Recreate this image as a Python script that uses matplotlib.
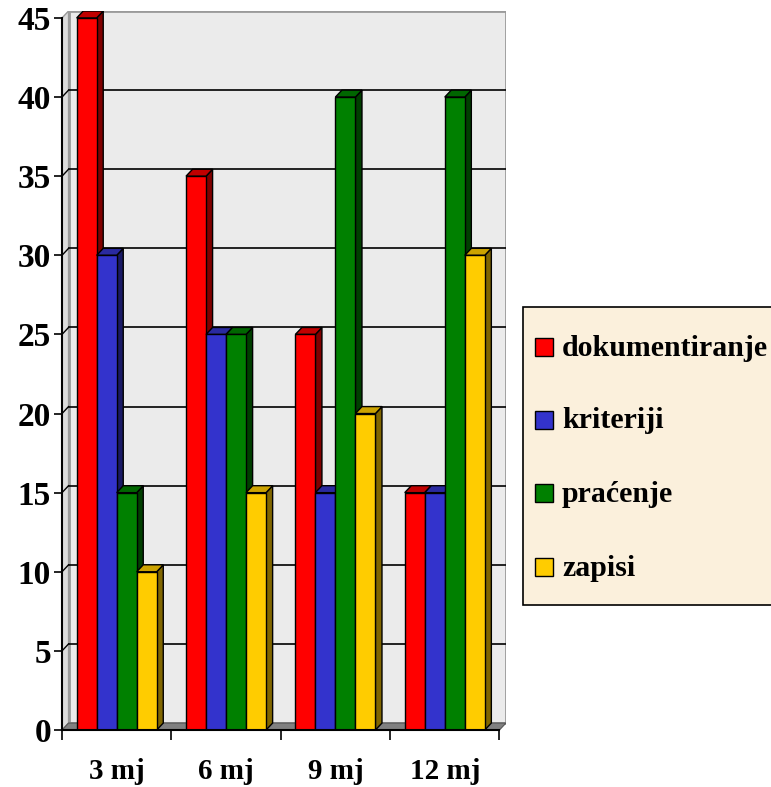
import matplotlib
matplotlib.use("Agg")
import matplotlib.pyplot as plt
from matplotlib.patches import Rectangle, Polygon

plt.rcParams['font.family'] = ['Liberation Serif', 'DejaVu Serif']
plt.rcParams['font.weight'] = 'bold'

# data
categories = ["3 mj", "6 mj", "9 mj", "12 mj"]
series_names = ["dokumentiranje", "kriteriji", "praćenje", "zapisi"]
dokumentiranje = [45, 35, 25, 15]
kriteriji = [30, 25, 15, 15]
pracenje = [15, 25, 40, 40]
zapisi = [10, 15, 20, 30]
series = [dokumentiranje, kriteriji, pracenje, zapisi]
y_ticks = [0, 5, 10, 15, 20, 25, 30, 35, 40, 45]

front_cols = ["#FF0000", "#3333CC", "#008000", "#FFCC00"]
top_cols = ["#C00000", "#2A2AA0", "#006600", "#CCA300"]
side_cols = ["#800000", "#1A1A66", "#003F00", "#806600"]

W, H = 771, 787
fig = plt.figure(figsize=(W / 100, H / 100), dpi=100)
ax = fig.add_axes([62 / W, 1 - 730 / H, 444 / W, 719 / H])
ax.set_facecolor("none")

n = len(categories)
ymax = 45
dx, dy = 0.06, 0.44
w = 0.183

# back wall, side wall, floor
ax.add_patch(Rectangle((dx, dy), n, ymax, fc="#EBEBEB", ec="#9A9A9A", lw=2, zorder=0))
ax.add_patch(Polygon([(0, 0), (dx, dy), (dx, ymax + dy), (0, ymax)],
                     closed=True, fc="#DCDCDC", ec="#9A9A9A", lw=1, zorder=0))
ax.add_patch(Polygon([(0, 0), (n, 0), (n + dx, dy), (dx, dy)],
                     closed=True, fc="#808080", ec="#555555", lw=0.8, zorder=1))
for v in y_ticks[1:-1]:
    ax.plot([dx, n + dx], [v + dy, v + dy], color="black", lw=1.2, zorder=1)
    ax.plot([0, dx], [v, v + dy], color="black", lw=1, zorder=1)

# bars (front face, right side, top)
for i in range(n):
    for j, vals in enumerate(series):
        v = vals[i]
        x0 = i + 0.5 + (j - 2) * w
        z = 2 + j
        ax.add_patch(Polygon([(x0 + w, 0), (x0 + w + dx, dy), (x0 + w + dx, v + dy), (x0 + w, v)],
                             closed=True, fc=side_cols[j], ec="black", lw=1, zorder=z))
        ax.add_patch(Polygon([(x0, v), (x0 + dx, v + dy), (x0 + w + dx, v + dy), (x0 + w, v)],
                             closed=True, fc=top_cols[j], ec="black", lw=1, zorder=z))
        ax.add_patch(Rectangle((x0, 0), w, v, fc=front_cols[j], ec="black", lw=1, zorder=z))

ax.set_xlim(0, n + dx)
ax.set_ylim(0, ymax + dy)

for s in ["top", "right"]:
    ax.spines[s].set_visible(False)
ax.spines["left"].set_bounds(0, ymax)
ax.spines["bottom"].set_bounds(0, n)
for s in ["left", "bottom"]:
    ax.spines[s].set_linewidth(1.5)
    ax.spines[s].set_zorder(10)

ax.set_yticks(y_ticks)
ax.set_yticklabels([str(t) for t in y_ticks], fontsize=24, fontweight="bold")
ax.tick_params(axis="y", length=6, width=1.2, pad=2)

ax.set_xticks(range(n + 1))
ax.set_xticklabels([])
ax.set_xticks([i + 0.5 for i in range(n)], minor=True)
ax.set_xticklabels(categories, minor=True, fontsize=21, fontweight="bold")
ax.tick_params(axis="x", which="major", length=7, width=1.2)
ax.tick_params(axis="x", which="minor", length=0, pad=20)

# legend box, drawn by hand in pixel positions of the figure
def fx(px):
    return px / W

def fy(py):
    return 1 - py / H

fig.patches.append(Rectangle((fx(523), fy(605)), fx(780) - fx(523), fy(307) - fy(605),
                             transform=fig.transFigure, fc="#FBF0DC", ec="black", lw=1.2))
row_y = [347, 420, 493, 567]
for j, name in enumerate(series_names):
    fig.patches.append(Rectangle((fx(535), fy(row_y[j] + 9)), fx(18), 18 / H,
                                 transform=fig.transFigure, fc=front_cols[j], ec="black", lw=1))
    fig.text(fx(562), fy(row_y[j] + 1), name, fontsize=21.5, fontweight="bold",
             va="center", ha="left")

fig.savefig("out.png", dpi=100)
